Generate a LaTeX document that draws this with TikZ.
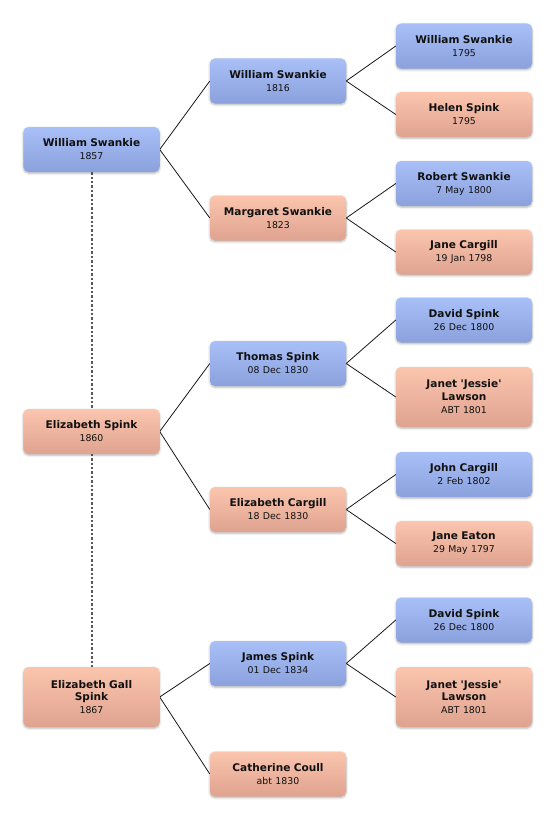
\documentclass[tikz,border=0pt]{standalone}
\usepackage{fontspec}
\setmainfont{DejaVu Sans}[Ligatures=TeXOff]
\usetikzlibrary{shadows.blur,backgrounds}
\definecolor{bluetop}{HTML}{A9BFF7}
\definecolor{bluebot}{HTML}{8BA1DD}
\definecolor{pinktop}{HTML}{FBC5AE}
\definecolor{pinkbot}{HTML}{DFA38F}
\definecolor{txt}{HTML}{111111}
\tikzset{
  person/.style={rounded corners=5bp, minimum width=136bp, text width=132bp,
    align=center, inner sep=0pt, text=txt,
    font=\fontsize{10}{13}\selectfont,
    blur shadow={shadow blur steps=6, shadow xshift=0bp, shadow yshift=-1.2bp,
      shadow blur radius=2.2bp, shadow opacity=30}},
  male/.style={person, top color=bluetop, bottom color=bluebot},
  female/.style={person, top color=pinktop, bottom color=pinkbot},
  two/.style={minimum height=45bp},
  three/.style={minimum height=60bp},
  link/.style={draw=black!90, line width=0.8bp},
  dotline/.style={draw=black!65, line width=2bp, dash pattern=on 2.4bp off 2bp}
}
\newcommand{\pn}[1]{{\bfseries\fontsize{10.6}{13}\selectfont #1}}
\newcommand{\pd}[1]{{\fontsize{9.4}{12}\selectfont #1}}
\begin{document}
\begin{tikzpicture}[x=1bp,y=-1bp]
\useasboundingbox (0,0) rectangle (556,821);
% left column
\node[male,two] (a1) at (91.5,149.5) {\pn{William Swankie}\\\pd{1857}};
\node[female,two] (a2) at (91.5,431.5) {\pn{Elizabeth Spink}\\\pd{1860}};
\node[female,three] (a3) at (91.5,697) {\pn{Elizabeth Gall}\\\pn{Spink}\\\pd{1867}};
% middle column
\node[male,two] (b1) at (278,81) {\pn{William Swankie}\\\pd{1816}};
\node[female,two] (b2) at (278,218) {\pn{Margaret Swankie}\\\pd{1823}};
\node[male,two] (b3) at (278,363.5) {\pn{Thomas Spink}\\\pd{08 Dec 1830}};
\node[female,two] (b4) at (278,509.5) {\pn{Elizabeth Cargill}\\\pd{18 Dec 1830}};
\node[male,two] (b5) at (278,663.5) {\pn{James Spink}\\\pd{01 Dec 1834}};
\node[female,two] (b6) at (278,774) {\pn{Catherine Coull}\\\pd{abt 1830}};
% right column
\node[male,two] (c1) at (464,46) {\pn{William Swankie}\\\pd{1795}};
\node[female,two] (c2) at (464,114.5) {\pn{Helen Spink}\\\pd{1795}};
\node[male,two] (c3) at (464,183.5) {\pn{Robert Swankie}\\\pd{7 May 1800}};
\node[female,two] (c4) at (464,252) {\pn{Jane Cargill}\\\pd{19 Jan 1798}};
\node[male,two] (c5) at (464,320) {\pn{David Spink}\\\pd{26 Dec 1800}};
\node[female,three] (c6) at (464,397) {\pn{Janet 'Jessie'}\\\pn{Lawson}\\\pd{ABT 1801}};
\node[male,two] (c7) at (464,474.5) {\pn{John Cargill}\\\pd{2 Feb 1802}};
\node[female,two] (c8) at (464,543.5) {\pn{Jane Eaton}\\\pd{29 May 1797}};
\node[male,two] (c9) at (464,620) {\pn{David Spink}\\\pd{26 Dec 1800}};
\node[female,three] (c10) at (464,697) {\pn{Janet 'Jessie'}\\\pn{Lawson}\\\pd{ABT 1801}};
\begin{scope}[on background layer]
\draw[dotline] (a1.south) -- (a3.north);
\draw[link] (b1.west) -- (a1.east) -- (b2.west);
\draw[link] (b3.west) -- (a2.east) -- (b4.west);
\draw[link] (b5.west) -- (a3.east) -- (b6.west);
\draw[link] (c1.west) -- (b1.east) -- (c2.west);
\draw[link] (c3.west) -- (b2.east) -- (c4.west);
\draw[link] (c5.west) -- (b3.east) -- (c6.west);
\draw[link] (c7.west) -- (b4.east) -- (c8.west);
\draw[link] (c9.west) -- (b5.east) -- (c10.west);
\end{scope}
\end{tikzpicture}
\end{document}
